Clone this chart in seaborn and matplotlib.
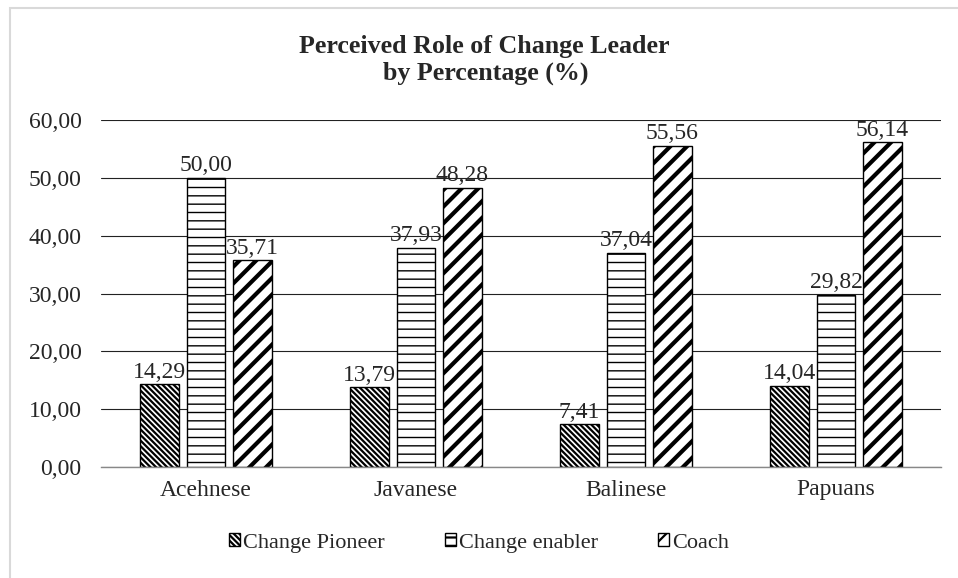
import matplotlib
matplotlib.use("Agg")
import matplotlib.pyplot as plt
import matplotlib.patches as mpatches
import pandas as pd
import seaborn as sns

# ── Data ──────────────────────────────────────────────────────────────────────

GROUPS = ["Acehnese", "Javanese", "Balinese", "Papuans"]
ROLES = ["Change Pioneer", "Change enabler", "Coach"]
PIONEER = [14.29, 13.79, 7.41, 14.04]
ENABLER = [50.00, 37.93, 37.04, 29.82]
COACH = [35.71, 48.28, 55.56, 56.14]
Y_TICKS = [0, 10, 20, 30, 40, 50, 60]

HATCHES = ["\\\\\\\\\\\\", "--", "//"]
HATCH_LW = [1.6, 1.0, 3.0]

# ── Style ─────────────────────────────────────────────────────────────────────

sns.set_theme(style="white")
plt.rcParams["font.family"] = ["Liberation Serif", "DejaVu Serif"]
plt.rcParams["hatch.color"] = "black"
plt.rcParams["hatch.linewidth"] = 1.6

df = pd.DataFrame({
    "group": GROUPS * 3,
    "role": [r for r in ROLES for _ in GROUPS],
    "value": PIONEER + ENABLER + COACH,
})

fig = plt.figure(figsize=(9.58, 5.78), dpi=100)
ax = fig.add_axes([101 / 958, 1 - 467 / 578, 840 / 958, 347 / 578])

sns.barplot(data=df, x="group", y="value", hue="role", order=GROUPS,
            hue_order=ROLES, width=0.664, gap=0.18,
            palette=["white"] * 3, edgecolor="black", linewidth=1.0,
            legend=False, ax=ax)

fmt = lambda v: f"{v:.2f}".replace(".", ",")
for cont, hatch, hlw in zip(ax.containers, HATCHES, HATCH_LW):
    for bar in cont:
        bar.set_hatch(hatch)
        if hasattr(bar, "set_hatch_linewidth"):
            bar.set_hatch_linewidth(hlw)
    ax.bar_label(cont, labels=[fmt(b.get_height()) for b in cont],
                 padding=1, fontsize=17)

ax.set_ylim(0, 60)
ax.set_xlim(-0.5, 3.5)
ax.set_yticks(Y_TICKS)
ax.set_yticklabels([fmt(t) for t in Y_TICKS], fontsize=17)
ax.tick_params(axis="x", labelsize=17, pad=9, length=0)
ax.tick_params(axis="y", pad=14, length=0)
ax.set_xlabel("")
ax.set_ylabel("")
ax.grid(axis="y", color="#222222", linewidth=0.8)
ax.set_axisbelow(True)
for side in ["left", "right", "top"]:
    ax.spines[side].set_visible(False)
ax.spines["bottom"].set_color("#888888")
ax.spines["bottom"].set_linewidth(1.0)

fig.text(484 / 958, 1 - 46 / 578, "Perceived Role of Change Leader",
         ha="center", va="center", fontsize=18.7, fontweight="bold")
fig.text(486 / 958, 1 - 73 / 578, "by Percentage (%)",
         ha="center", va="center", fontsize=18.7, fontweight="bold")

handles = []
for role, hatch in zip(ROLES, HATCHES):
    handles.append(mpatches.Patch(facecolor="white", edgecolor="black",
                                  hatch=hatch, label=role))
fig.legend(handles=handles, loc="center", bbox_to_anchor=(479 / 958, 1 - 543 / 578),
           ncol=3, frameon=False, fontsize=16, handlelength=0.5,
           handleheight=0.5, handletextpad=0.15, columnspacing=2.7)

# light gray chart-area border (left and top edges visible)
fig.add_artist(mpatches.Rectangle((10 / 958, -0.1), 1.2, 1 - 8 / 578 + 0.1,
                                  transform=fig.transFigure, fill=False,
                                  edgecolor="#d9d9d9", linewidth=1.5))

fig.savefig("out.png", dpi=100)
